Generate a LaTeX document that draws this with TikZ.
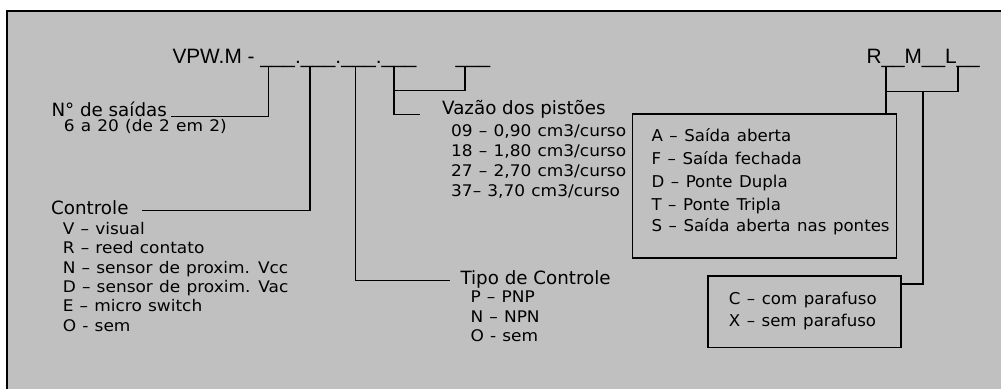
\documentclass[tikz,border=0pt]{standalone}
\usepackage{fontspec}
\setmainfont{DejaVu Sans}
\newfontfamily\codefont{Liberation Sans}
\newfontfamily\itemfont{DejaVu Sans}[FakeStretch=1.06,WordSpace=1.15]
\newfontfamily\boxfont{DejaVu Sans}[FakeStretch=1.02,WordSpace=1.25]
\definecolor{panelgray}{RGB}{192,192,192}

\tikzset{every picture/.style={line width=0.75pt}}
\tikzset{
  codetext/.style={anchor=base west,inner sep=0pt,font=\codefont\fontsize{15.6}{18}\selectfont},
  grptitle/.style={anchor=base west,inner sep=0pt,font=\fontsize{13.7}{16}\selectfont},
  optitem/.style={anchor=base west,inner sep=0pt,font=\itemfont\fontsize{12}{14}\selectfont},
  boxitem/.style={anchor=base west,inner sep=0pt,font=\boxfont\fontsize{12.2}{15}\selectfont},
  conn/.style={line width=1.1pt},
  optbox/.style={draw,line width=1.3pt,anchor=north west,inner sep=0pt},
}

\begin{document}
\begin{tikzpicture}[x=0.75pt,y=0.75pt,yscale=-1,xscale=1]
\useasboundingbox (0,0) rectangle (1001,389);

%Shape: Rectangle
\fill [panelgray] (6,10) rectangle (1001,389);
%Straight Lines
\draw [line width=1.5pt] (7,389) -- (7,11) -- (1001,11);

% Text Node
\node (vpw) [codetext] at (172,63) {VPW.M - \_\_\_.\_\_\_.\_\_\_.\_\_\_};
% Text Node
\node (blank) [codetext] at (455,63) {\_\_\_};
% Text Node
\node (rml) [codetext] at (866,63) {R\_\_M\_\_L\_\_};

%Coordinates under the blanks
\coordinate (b1) at (268.7,66);
\coordinate (b2) at (310,66);
\coordinate (b3) at (355.3,66);
\coordinate (b4) at (394,66);
\coordinate (b5) at (465,66);
\coordinate (v0) at (394,90.7);
\coordinate (r1) at (886,66);
\coordinate (r3) at (958,66);
\coordinate (rj) at (923,91.7);
\coordinate (rk) at (923,284);

% Text Node
\node (nsaidas) [grptitle] at (51,116.5) {N° de saídas};
\node (nsai1) [optitem] at (63.3,131) {6 a 20 (de 2 em 2)};

% Text Node
\node (ctl) [grptitle] at (50.7,214) {Controle};
\node (ctl1) [optitem] at (62.3,234.3) {V – visual};
\node (ctl2) [optitem] at (62.3,253.3) {R – reed contato};
\node (ctl3) [optitem] at (62.3,273.3) {N – sensor de proxim. Vcc};
\node (ctl4) [optitem] at (62.3,292.3) {D – sensor de proxim. Vac};
\node (ctl5) [optitem] at (62.3,311.7) {E – micro switch};
\node (ctl6) [optitem] at (62.3,331) {O - sem};

% Text Node
\node (vazao) [grptitle] at (441.7,114.5) {Vazão dos pistões};
\node (vaz1) [optitem] at (450.7,136.7) {09 – 0,90 cm3/curso};
\node (vaz2) [optitem] at (450.7,156.7) {18 – 1,80 cm3/curso};
\node (vaz3) [optitem] at (450.7,176.7) {27 – 2,70 cm3/curso};
\node (vaz4) [optitem] at (450.7,196.7) {37– 3,70 cm3/curso};

% Text Node
\node (tipo) [grptitle] at (460,284.3) {Tipo de Controle};
\node (tipo1) [optitem] at (470,302.3) {P – PNP};
\node (tipo2) [optitem] at (470,322.3) {N – NPN};
\node (tipo3) [optitem] at (470,341.7) {O - sem};

%Shape: Rectangle
\node (boxa) [optbox,minimum width=198pt,minimum height=107.6pt] at (631.7,113.3) {};
\node (boxa1) [boxitem] at (651,141.7) {A – Saída aberta};
\node (boxa2) [boxitem] at (651,164.3) {F – Saída fechada};
\node (boxa3) [boxitem] at (651,187.3) {D – Ponte Dupla};
\node (boxa4) [boxitem] at (651,210) {T – Ponte Tripla};
\node (boxa5) [boxitem] at (651,231.7) {S – Saída aberta nas pontes};

%Shape: Rectangle
\node (boxc) [optbox,minimum width=144.5pt,minimum height=53.8pt] at (707.3,275) {};
\node (boxc1) [boxitem] at (728.3,304) {C – com parafuso};
\node (boxc2) [boxitem] at (728.3,326.7) {X – sem parafuso};

%Straight Lines
\draw [conn] (b1) |- ([xshift=2.5pt]nsaidas.base east);
\draw [conn] (b2) |- ([xshift=10pt]ctl.mid east);
\draw [conn] (b3) |- ([xshift=-7.5pt]tipo.mid west);
\draw [conn] (b4) |- ([xshift=-16.3pt]vazao.base west);
\draw [conn] (b5) |- (v0);
%Straight Lines
\draw [conn] (r1) -- (r1 |- boxa.north);
\draw [conn] (r3) |- (r1 |- rj);
\draw [conn] (rj) -- (rk) -- (rk -| boxc.east);

\end{tikzpicture}
\end{document}
